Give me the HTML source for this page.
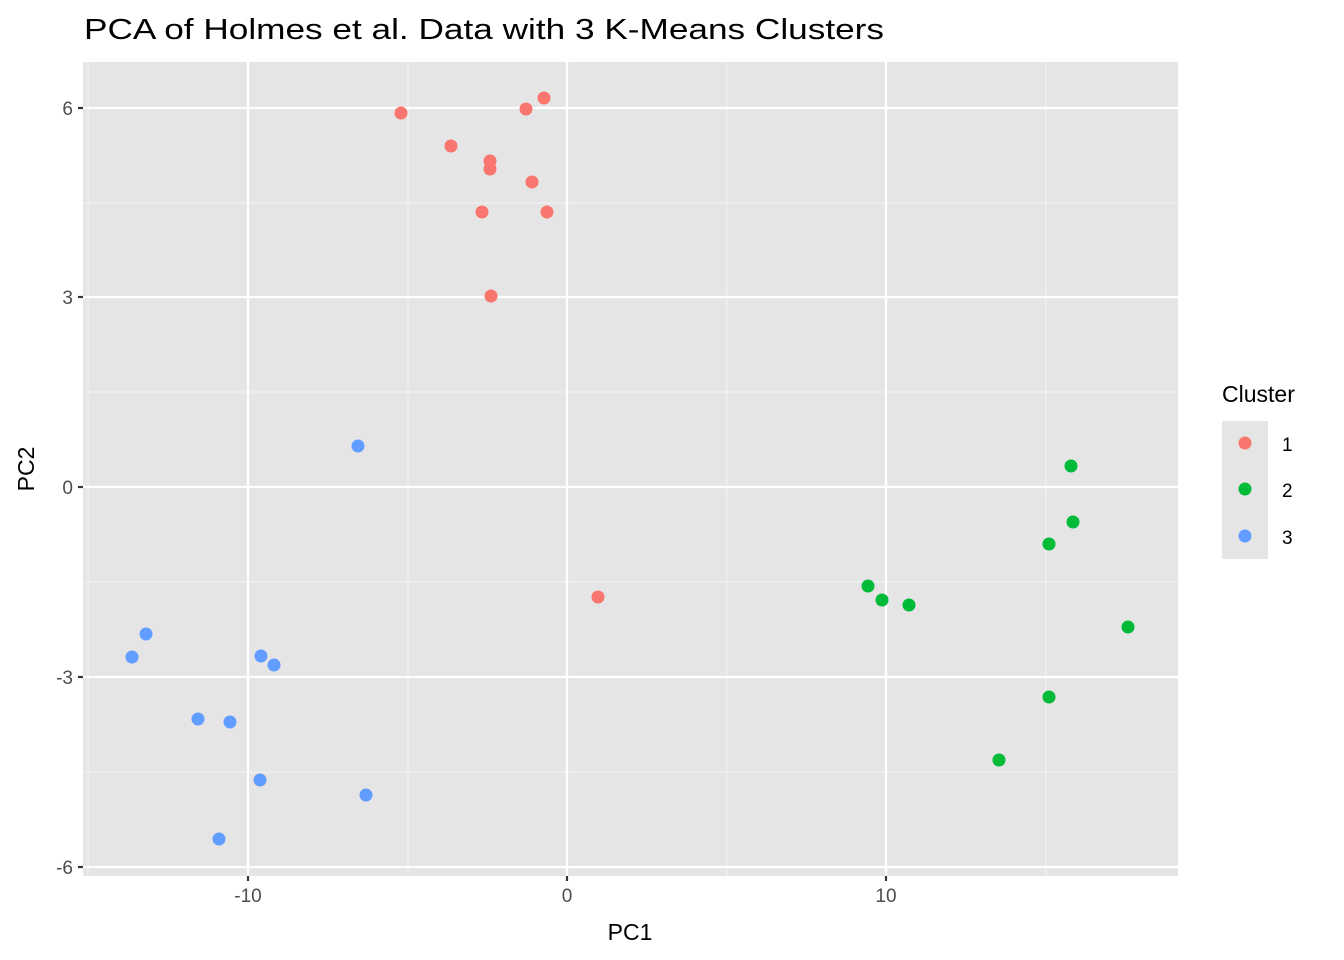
<!DOCTYPE html>
<html><head><meta charset="utf-8"><style>body{margin:0;background:#fff}svg{display:block}text{font-family:"Liberation Sans",Arial,sans-serif}.tk{font-size:19px;fill:#4d4d4d}.lg{font-size:19px;fill:#000}</style></head><body>
<svg width="1344" height="960" xmlns="http://www.w3.org/2000/svg">
<text x="84" y="39" style="font-size:29px" fill="#000" textLength="800" lengthAdjust="spacingAndGlyphs">PCA of Holmes et al. Data with 3 K-Means Clusters</text>
<rect x="83" y="62" width="1095" height="814" fill="#e5e5e5"/>
<g stroke="#f2f2f2" stroke-width="1.1">
<line x1="88" y1="62" x2="88" y2="876"/><line x1="408" y1="62" x2="408" y2="876"/><line x1="727" y1="62" x2="727" y2="876"/><line x1="1046" y1="62" x2="1046" y2="876"/>
<line x1="83" y1="203" x2="1178" y2="203"/><line x1="83" y1="392" x2="1178" y2="392"/><line x1="83" y1="582" x2="1178" y2="582"/><line x1="83" y1="772" x2="1178" y2="772"/>
</g>
<g stroke="#fff" stroke-width="2.2">
<line x1="248" y1="62" x2="248" y2="876"/><line x1="567" y1="62" x2="567" y2="876"/><line x1="886" y1="62" x2="886" y2="876"/>
<line x1="83" y1="108" x2="1178" y2="108"/><line x1="83" y1="297" x2="1178" y2="297"/><line x1="83" y1="487" x2="1178" y2="487"/><line x1="83" y1="677" x2="1178" y2="677"/><line x1="83" y1="867" x2="1178" y2="867"/>
</g>
<g stroke="#333" stroke-width="2.2">
<line x1="78" y1="108" x2="83" y2="108"/><line x1="78" y1="297" x2="83" y2="297"/><line x1="78" y1="487" x2="83" y2="487"/><line x1="78" y1="677" x2="83" y2="677"/><line x1="78" y1="867" x2="83" y2="867"/>
<line x1="248" y1="876" x2="248" y2="881"/><line x1="567" y1="876" x2="567" y2="881"/><line x1="886" y1="876" x2="886" y2="881"/>
</g>
<g text-anchor="end">
<text class="tk" x="73" y="115">6</text><text class="tk" x="73" y="304">3</text><text class="tk" x="73" y="494">0</text><text class="tk" x="73" y="684">-3</text><text class="tk" x="73" y="874">-6</text>
</g>
<g text-anchor="middle">
<text class="tk" x="248" y="902">-10</text><text class="tk" x="567" y="902">0</text><text class="tk" x="886" y="902">10</text>
</g>
<text x="630" y="940" style="font-size:23px" text-anchor="middle">PC1</text>
<text transform="translate(34,469) rotate(-90)" style="font-size:23px" text-anchor="middle">PC2</text>
<g fill="#f8766d">
<circle cx="401" cy="113" r="6.5"/><circle cx="526" cy="109" r="6.5"/><circle cx="544" cy="98" r="6.5"/><circle cx="451" cy="146" r="6.5"/><circle cx="490" cy="161" r="6.5"/><circle cx="490" cy="169" r="6.5"/><circle cx="532" cy="182" r="6.5"/><circle cx="482" cy="212" r="6.5"/><circle cx="547" cy="212" r="6.5"/><circle cx="491" cy="296" r="6.5"/><circle cx="598" cy="597" r="6.5"/>
</g>
<g fill="#00ba38">
<circle cx="1071" cy="466" r="6.5"/><circle cx="1073" cy="522" r="6.5"/><circle cx="1049" cy="544" r="6.5"/><circle cx="868" cy="586" r="6.5"/><circle cx="882" cy="600" r="6.5"/><circle cx="909" cy="605" r="6.5"/><circle cx="1128" cy="627" r="6.5"/><circle cx="1049" cy="697" r="6.5"/><circle cx="999" cy="760" r="6.5"/>
</g>
<g fill="#619cff">
<circle cx="358" cy="446" r="6.5"/><circle cx="146" cy="634" r="6.5"/><circle cx="132" cy="657" r="6.5"/><circle cx="261" cy="656" r="6.5"/><circle cx="274" cy="665" r="6.5"/><circle cx="198" cy="719" r="6.5"/><circle cx="230" cy="722" r="6.5"/><circle cx="260" cy="780" r="6.5"/><circle cx="366" cy="795" r="6.5"/><circle cx="219" cy="839" r="6.5"/>
</g>
<text x="1222" y="402" style="font-size:23px">Cluster</text>
<rect x="1222" y="421" width="46" height="138" fill="#e5e5e5"/>
<circle cx="1245" cy="443" r="6.5" fill="#f8766d"/><circle cx="1245" cy="489" r="6.5" fill="#00ba38"/><circle cx="1245" cy="536" r="6.5" fill="#619cff"/>
<text class="lg" x="1282" y="451">1</text><text class="lg" x="1282" y="497">2</text><text class="lg" x="1282" y="544">3</text>
</svg>
</body></html>
